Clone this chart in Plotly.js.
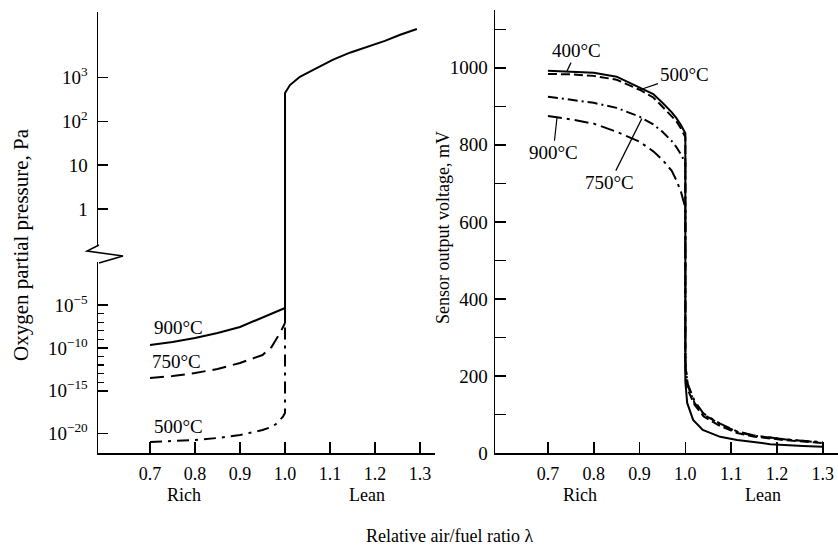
<!DOCTYPE html>
<html>
<head>
<meta charset="utf-8">
<script src="https://cdn.plot.ly/plotly-3.0.1.min.js"></script>
<style>html,body{margin:0;padding:0;background:#fff;}#chart{width:838px;height:552px;}</style>
</head>
<body>
<div id="chart"></div>
<script>
// ---------- DATA ----------
const lambdaTicks = [0.7, 0.8, 0.9, 1.0, 1.1, 1.2, 1.3];
const lambdaTickText = ['0.7', '0.8', '0.9', '1.0', '1.1', '1.2', '1.3'];

// Left panel: oxygen partial pressure, log10(Pa)
const lam900L = [0.7, 0.75, 0.8, 0.85, 0.9, 0.95, 0.97, 1.0];
const log900L = [-9.66, -9.31, -8.85, -8.26, -7.56, -6.5, -6.05, -5.35];
const lam750L = [0.7, 0.75, 0.8, 0.85, 0.9, 0.95, 0.97, 0.98, 0.99, 1.0];
const log750L = [-13.51, -13.28, -12.93, -12.46, -11.76, -10.83, -9.9, -9.08, -8.15, -7.1];
const lam500L = [0.7, 0.8, 0.85, 0.9, 0.95, 0.97, 0.98, 0.99, 0.995, 1.0, 1.0];
const log500L = [-20.97, -20.73, -20.5, -20.15, -19.57, -19.22, -18.87, -18.4, -18.05, -17.59, -7.1];
const lamLean = [1.0, 1.0, 1.011, 1.033, 1.067, 1.107, 1.144, 1.182, 1.222, 1.256, 1.293];
const logLean = [-7.1, 2.65, 2.83, 3.02, 3.20, 3.41, 3.57, 3.70, 3.84, 3.98, 4.11];

const upperTickVals = [1e3, 1e2, 10, 1];
const upperTickText = ['10<sup>3</sup>', '10<sup>2</sup>', '10', '1'];
const lowerTickVals = [1e-5, 1e-10, 1e-15, 1e-20];
const lowerTickText = ['10<sup>\u22125</sup>', '10<sup>\u221210</sup>', '10<sup>\u221215</sup>', '10<sup>\u221220</sup>'];
const lowerMinorVals = [1e-6, 1e-7, 1e-8, 1e-9, 1e-11, 1e-12, 1e-13, 1e-14];

// Right panel: sensor output voltage, mV
const lamV400 = [0.7, 0.75, 0.8, 0.85, 0.9, 0.93, 0.95, 0.97, 0.98, 0.99, 1.0, 1.0, 1.004, 1.017, 1.038, 1.076, 1.113, 1.185, 1.257, 1.30];
const mv400 = [992, 990, 987, 977, 950, 932, 909, 885, 870, 852, 830, 185, 130, 86, 60, 42, 34, 23, 18, 16];
const lamV = [0.7, 0.75, 0.8, 0.85, 0.9, 0.93, 0.95, 0.97, 0.98, 0.99, 1.0, 1.0, 1.005, 1.02, 1.04, 1.076, 1.113, 1.148, 1.185, 1.22, 1.30];
const mv500 = [984, 983, 979, 969, 943, 923, 899, 876, 862, 843, 820, 215, 165, 125, 95, 70, 52, 43, 38, 33, 26];
const mv750 = [925, 917, 909, 896, 873, 853, 834, 810, 795, 776, 753, 230, 175, 130, 100, 75, 55, 45, 40, 35, 27];
const mv900 = [875, 866, 855, 834, 808, 783, 761, 733, 709, 680, 636, 240, 180, 135, 102, 76, 56, 46, 40, 35, 28];

// ---------- HELPERS ----------
const W = 838, H = 552;
const px = v => v / W;
const py = v => 1 - v / H;
const pow10 = arr => arr.map(v => Math.pow(10, v));
const FONT = 'Liberation Serif, Times New Roman, serif';
const black = '#000';

function tr(x, y, xa, ya, dash) {
  return {x: x, y: y, xaxis: xa, yaxis: ya, mode: 'lines', type: 'scatter',
          line: {color: black, width: 2, dash: dash}, hoverinfo: 'skip', showlegend: false};
}

const traces = [
  tr(lam900L, pow10(log900L), 'x', 'y3', 'solid'),
  tr(lam750L, pow10(log750L), 'x', 'y3', '14px,7px'),
  tr(lam500L, pow10(log500L), 'x', 'y3', '12px,6px,3px,6px'),
  tr(lamLean, pow10(logLean), 'x', 'y3', 'solid'),
  tr(lamLean, pow10(logLean), 'x', 'y', 'solid'),
  tr(lamV400, mv400, 'x2', 'y2', 'solid'),
  tr(lamV, mv500, 'x2', 'y2', '9px,4px'),
  tr(lamV, mv750, 'x2', 'y2', '10px,4px,2px,4px'),
  tr(lamV, mv900, 'x2', 'y2', '14px,5px,3px,5px')
];

const xCommon = {
  range: [0.5844, 1.3333], tickvals: lambdaTicks, ticktext: lambdaTickText,
  ticks: 'inside', ticklen: 11, tickwidth: 1.5, tickcolor: black,
  showline: true, linecolor: black, linewidth: 1.5, showgrid: false, zeroline: false,
  ticklabelstandoff: 4, tickfont: {family: FONT, size: 18, color: black}, fixedrange: true
};

function lab(xref, yref, x, y, text, size, extra) {
  return Object.assign({xref: xref, yref: yref, x: x, y: y, text: text, showarrow: false,
    xanchor: 'center', yanchor: 'middle', font: {family: FONT, size: size, color: black}}, extra || {});
}
function lead(x, y, ax, ay, text) {
  return {xref: 'x2', yref: 'y2', x: x, y: y, ax: ax, ay: ay, text: text, showarrow: true,
    arrowhead: 0, arrowwidth: 1.2, arrowcolor: black, standoff: 0,
    xanchor: 'center', yanchor: 'middle', font: {family: FONT, size: 19, color: black}};
}

const layout = {
  width: W, height: H,
  margin: {l: 0, r: 0, t: 0, b: 0},
  paper_bgcolor: '#fff', plot_bgcolor: 'rgba(0,0,0,0)',
  font: {family: FONT, size: 18, color: black},
  showlegend: false,
  xaxis: Object.assign({}, xCommon, {domain: [px(98), px(435)], anchor: 'y3'}),
  xaxis2: Object.assign({}, xCommon, {domain: [px(495), 1], anchor: 'y2'}),
  yaxis: {
    type: 'log', domain: [py(254), py(12)], range: [-1.03, 4.5], anchor: 'x',
    tickvals: upperTickVals, ticktext: upperTickText,
    ticks: 'inside', ticklen: 10, tickwidth: 1.5, tickcolor: black,
    showline: true, linecolor: black, linewidth: 1.5, showgrid: false, zeroline: false,
    ticklabelstandoff: 5, tickfont: {family: FONT, size: 19, color: black}, fixedrange: true
  },
  yaxis3: {
    type: 'log', domain: [py(453), py(254)], range: [-22.25, 0.94], anchor: 'x',
    tickvals: lowerTickVals, ticktext: lowerTickText,
    ticks: 'inside', ticklen: 10, tickwidth: 1.5, tickcolor: black,
    minor: {tickvals: lowerMinorVals, ticks: 'inside', ticklen: 6, tickwidth: 1.2, tickcolor: black},
    showline: true, linecolor: black, linewidth: 1.5, showgrid: false, zeroline: false,
    ticklabelstandoff: 5, tickfont: {family: FONT, size: 19, color: black}, fixedrange: true
  },
  yaxis2: {
    domain: [py(453), py(10)], range: [0, 1150], anchor: 'x2',
    tick0: 0, dtick: 200,
    ticks: 'inside', ticklen: 11, tickwidth: 1.5, tickcolor: black,
    minor: {dtick: 100, tick0: 0, ticks: 'inside', ticklen: 11, tickwidth: 1.2, tickcolor: black},
    showline: true, linecolor: black, linewidth: 1.5, showgrid: false, zeroline: false,
    ticklabelstandoff: 2, tickfont: {family: FONT, size: 19, color: black}, fixedrange: true
  },
  shapes: [
    {type: 'rect', xref: 'paper', yref: 'paper', x0: px(94), x1: px(104), y0: py(246), y1: py(262),
     fillcolor: '#fff', line: {width: 0}, layer: 'above'},
    {type: 'path', xref: 'paper', yref: 'paper', layer: 'above',
     path: `M ${px(99)},${py(245)} L ${px(87)},${py(251)} L ${px(123)},${py(256)} L ${px(99)},${py(263)}`,
     line: {color: black, width: 1.5}}
  ],
  annotations: [
    // left curve labels
    lab('x', 'y3', 0.764, -7.68, '900°C', 19),
    lab('x', 'y3', 0.758, -11.53, '750°C', 19),
    lab('x', 'y3', 0.764, -19.2, '500°C', 19),
    // right curve labels with leader lines
    lead(0.741, 990, 10, -21, '400°C'),
    lead(0.901, 943, 44, -15, '500°C'),
    lead(0.72, 873, -4, 36, '900°C'),
    lead(0.905, 868, -32, 64, '750°C'),
    // Rich / Lean
    lab('paper', 'paper', px(184), py(495), 'Rich', 18),
    lab('paper', 'paper', px(367), py(495), 'Lean', 18),
    lab('paper', 'paper', px(580), py(495), 'Rich', 18),
    lab('paper', 'paper', px(763), py(495), 'Lean', 18),
    // axis titles
    lab('paper', 'paper', px(449), py(536), 'Relative air/fuel ratio \u03bb', 18),
    lab('paper', 'paper', px(21), py(245), 'Oxygen partial pressure, Pa', 21, {textangle: -90}),
    lab('paper', 'paper', px(443), py(228), 'Sensor output voltage, mV', 18, {textangle: -90})
  ]
};

Plotly.newPlot('chart', traces, layout, {staticPlot: true, displayModeBar: false});
</script>
</body>
</html>
